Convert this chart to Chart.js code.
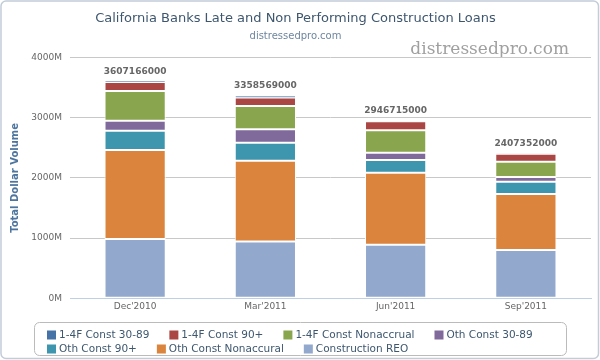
<!DOCTYPE html>
<html><head><meta charset="utf-8">
<script src="https://cdn.jsdelivr.net/npm/chart.js@4.4.0/dist/chart.umd.min.js"></script>
<style>html,body{margin:0;padding:0;background:#fff;}canvas{display:block;}</style>
</head><body>
<canvas id="c" width="600" height="360"></canvas>
<script>
// ---- data (values in millions of dollars) ----
const categories = ["Dec'2010", "Mar'2011", "Jun'2011", "Sep'2011"];
const f14Const3089 = [14, 23, 5, 5];
const f14Const90 = [147, 139, 150, 135];
const f14ConstNonaccrual = [494, 389, 373, 250];
const othConst3089 = [167, 225, 122, 81];
const othConst90 = [322, 297, 211, 203];
const othConstNonaccural = [1479, 1344, 1197, 933];
const constructionREO = [984, 942, 889, 800];
const stackTotals = ["3607166000", "3358569000", "2946715000", "2407352000"];
const yTickValues = [0, 1000, 2000, 3000, 4000];
const yTickLabels = ["0M", "1000M", "2000M", "3000M", "4000M"];

// legend order (top of stack first), colours
const legendSeries = [
  { name: "1-4F Const 30-89", data: f14Const3089, color: "#4572A7" },
  { name: "1-4F Const 90+", data: f14Const90, color: "#AA4643" },
  { name: "1-4F Const Nonaccrual", data: f14ConstNonaccrual, color: "#89A54E" },
  { name: "Oth Const 30-89", data: othConst3089, color: "#80699B" },
  { name: "Oth Const 90+", data: othConst90, color: "#3D96AE" },
  { name: "Oth Const Nonaccural", data: othConstNonaccural, color: "#DB843D" },
  { name: "Construction REO", data: constructionREO, color: "#92A8CD" }
];

const FONT = "'DejaVu Sans', Verdana, sans-serif";

// datasets from bottom to top of the stack
const datasets = legendSeries.slice().reverse().map((s, i, arr) => ({
  label: s.name,
  data: s.data,
  backgroundColor: s.color,
  borderColor: "#ffffff",
  borderWidth: i === arr.length - 1 ? { top: 0, bottom: 0, left: 1, right: 1 } : 1,
  borderSkipped: false,
  categoryPercentage: 1,
  barPercentage: 0.47,
  stack: "s"
}));

const framePlugin = {
  id: "frame",
  beforeDraw(chart) {
    const ctx = chart.ctx;
    ctx.save();
    ctx.fillStyle = "#fff";
    ctx.fillRect(0, 0, chart.width, chart.height);
    ctx.strokeStyle = "#C4CCD8";
    ctx.lineWidth = 1.5;
    ctx.beginPath();
    ctx.roundRect(1, 1, chart.width - 2.5, chart.height - 2.5, 5);
    ctx.stroke();
    // watermark
    ctx.font = "17px 'DejaVu Serif', serif";
    ctx.fillStyle = "#a0a0a0";
    ctx.textAlign = "right";
    ctx.textBaseline = "middle";
    ctx.fillText("distressedpro.com", 569, 50);
    ctx.restore();
  }
};

const totalsPlugin = {
  id: "totals",
  afterDatasetsDraw(chart) {
    const ctx = chart.ctx;
    const topMeta = chart.getDatasetMeta(chart.data.datasets.length - 1);
    ctx.save();
    ctx.font = "bold 9px " + FONT;
    ctx.fillStyle = "#666666";
    ctx.textAlign = "center";
    ctx.textBaseline = "middle";
    topMeta.data.forEach((bar, i) => {
      ctx.fillText(stackTotals[i], bar.x, bar.y - 10);
    });
    ctx.restore();
  }
};

const legendPlugin = {
  id: "boxLegend",
  afterDraw(chart) {
    const ctx = chart.ctx;
    const box = { x: 34.5, y: 322.5, w: 532, h: 33 };
    ctx.save();
    ctx.strokeStyle = "#BBBBBB";
    ctx.lineWidth = 1;
    ctx.beginPath();
    ctx.roundRect(box.x, box.y, box.w, box.h, 5);
    ctx.stroke();
    ctx.font = "10.5px " + FONT;
    ctx.textBaseline = "middle";
    ctx.textAlign = "left";
    let x = 47, y = 335;
    legendSeries.forEach((s, i) => {
      const tw = ctx.measureText(s.name).width;
      if (x + 12 + tw > box.x + box.w - 8) { x = 47; y += 14; }
      ctx.fillStyle = s.color;
      ctx.fillRect(x, y - 4.5, 9, 9);
      ctx.fillStyle = "#3E576F";
      ctx.fillText(s.name, x + 12, y + 0.5);
      x += 12 + tw + 20;
    });
    ctx.restore();
  }
};

new Chart(document.getElementById("c"), {
  type: "bar",
  data: { labels: categories, datasets },
  options: {
    responsive: false,
    animation: false,
    devicePixelRatio: 1,
    layout: { padding: { left: 0, right: 9, top: 0, bottom: 45 } },
    plugins: {
      legend: { display: false },
      tooltip: { enabled: false },
      title: {
        display: true,
        text: "California Banks Late and Non Performing Construction Loans",
        color: "#3E576F",
        font: { family: FONT, size: 13, weight: "normal", lineHeight: 1.2 },
        padding: { top: 11, bottom: 2 }
      },
      subtitle: {
        display: true,
        text: "distressedpro.com",
        color: "#6D869F",
        font: { family: FONT, size: 10, weight: "normal", lineHeight: 1.2 },
        padding: { top: 2, bottom: 15 }
      }
    },
    scales: {
      x: {
        stacked: true,
        offset: true,
        grid: { display: false, drawTicks: false },
        border: { display: true, color: "#C0D0E0", width: 1 },
        ticks: { color: "#666666", font: { family: FONT, size: 9 }, padding: 3, maxRotation: 0 }
      },
      y: {
        stacked: true,
        min: 0,
        max: 4000,
        afterFit(scale) { scale.width = 70; },
        afterBuildTicks(scale) { scale.ticks = yTickValues.map(v => ({ value: v })); },
        grid: { color: "#C8C8C8", drawTicks: false },
        border: { display: false },
        ticks: {
          color: "#666666",
          font: { family: FONT, size: 9 },
          padding: 8,
          callback: (v) => yTickLabels[yTickValues.indexOf(v)]
        },
        title: {
          display: true,
          text: "Total Dollar Volume",
          color: "#4D759E",
          font: { family: FONT, size: 10, weight: "bold", lineHeight: 1.2 },
          padding: { top: 9, bottom: 0 }
        }
      }
    }
  },
  plugins: [framePlugin, totalsPlugin, legendPlugin]
});
</script>
</body></html>
